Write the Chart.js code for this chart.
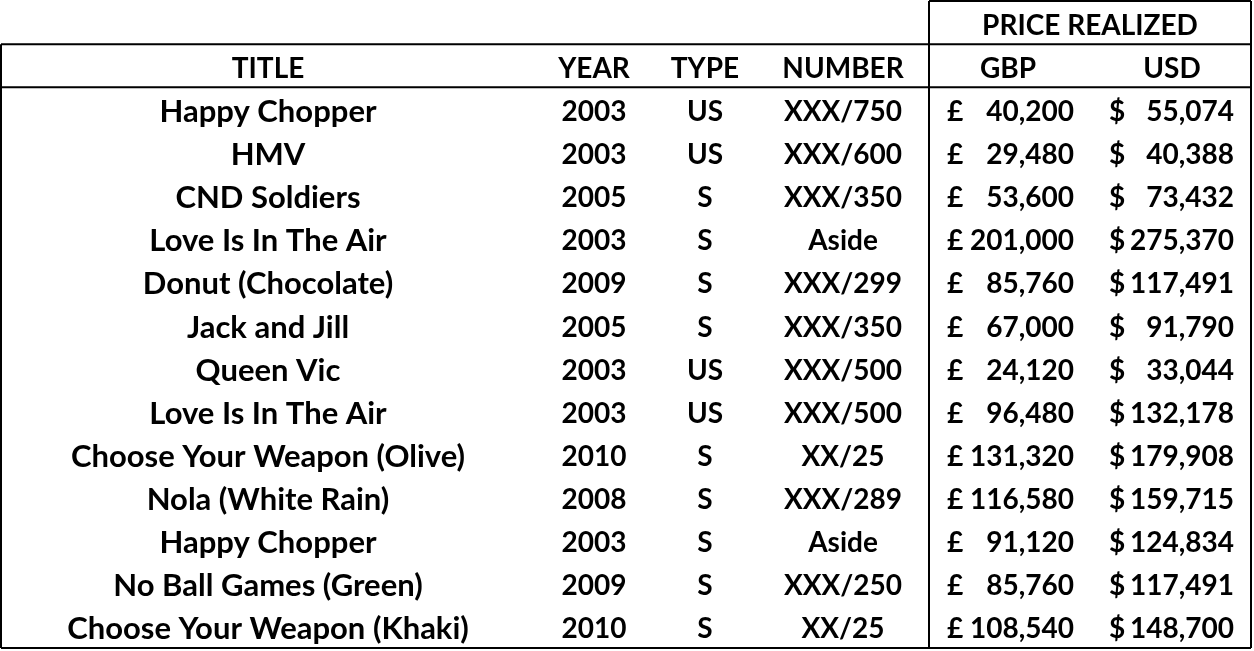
<!DOCTYPE html>
<html>
<head>
<meta charset="utf-8">
<script src="https://cdn.jsdelivr.net/npm/chart.js@4/dist/chart.umd.min.js"></script>
<style>
  html, body { margin: 0; padding: 0; background: #fff; }
  #wrap { width: 1254px; height: 651px; }
</style>
</head>
<body>
<div id="wrap"><canvas id="tabla" width="1254" height="651"></canvas></div>
<script>
const TITLES = ['Happy Chopper', 'HMV', 'CND Soldiers', 'Love Is In The Air', 'Donut (Chocolate)', 'Jack and Jill',
    'Queen Vic', 'Love Is In The Air', 'Choose Your Weapon (Olive)', 'Nola (White Rain)', 'Happy Chopper',
    'No Ball Games (Green)', 'Choose Your Weapon (Khaki)'];
const YEARS = [2003, 2003, 2005, 2003, 2009, 2005, 2003, 2003, 2010, 2008, 2003, 2009, 2010];
const TYPES = ['US', 'US', 'S', 'S', 'S', 'S', 'US', 'US', 'S', 'S', 'S', 'S', 'S'];
const NUMBERS = ['XXX/750', 'XXX/600', 'XXX/350', 'Aside', 'XXX/299', 'XXX/350', 'XXX/500', 'XXX/500',
    'XX/25', 'XXX/289', 'Aside', 'XXX/250', 'XX/25'];
const GBP = [40200, 29480, 53600, 201000, 85760, 67000, 24120, 96480, 131320, 116580, 91120, 85760, 108540];
const USD = [55074, 40388, 73432, 275370, 117491, 91790, 33044, 132178, 179908, 159715, 124834, 117491, 148700];

const HEADERS = ['TITLE', 'YEAR', 'TYPE', 'NUMBER', 'GBP', 'USD'];
const GROUP_HEADER = 'PRICE REALIZED';

// posiciones de columna (unidades del eje x)
const COL = { title: 267, year: 593, type: 704, number: 842, gbpSym: 946, gbpVal: 1073, usdSym: 1108, usdVal: 1233,
    gbpHead: 1007, usdHead: 1171, group: 1089, priceLeft: 928, right: 1250 };
const FONT = 'bold 28px Lato';
const FONT_TITLE = 'bold 31px Lato';

const fmt = n => n.toLocaleString('en-US');

function columna(textos, x, align, font) {
    return {
        data: textos.map((t, i) => ({ x: x, y: i })),
        textos: textos.map(String),
        align: align,
        font: font || FONT,
        pointRadius: 0
    };
}

const datasets = [
    columna(TITLES, COL.title, 'center', FONT_TITLE),
    columna(YEARS, COL.year, 'center'),
    columna(TYPES, COL.type, 'center'),
    columna(NUMBERS, COL.number, 'center'),
    columna(GBP.map(() => '£'), COL.gbpSym, 'left'),
    columna(GBP.map(fmt), COL.gbpVal, 'right'),
    columna(USD.map(() => '$'), COL.usdSym, 'left'),
    columna(USD.map(fmt), COL.usdVal, 'right'),
    // cabeceras
    {
        data: [COL.title, COL.year, COL.type, COL.number, COL.gbpHead, COL.usdHead].map(x => ({ x: x, y: -1 })),
        textos: HEADERS, align: 'center', font: FONT, pointRadius: 0
    },
    { data: [{ x: COL.group, y: -2 }], textos: [GROUP_HEADER], align: 'center', font: FONT, pointRadius: 0 }
];

const textoCeldas = {
    id: 'textoCeldas',
    afterDatasetsDraw(chart) {
        const ctx = chart.ctx;
        const x = chart.scales.x, y = chart.scales.y;
        const px = v => x.getPixelForValue(v), py = v => y.getPixelForValue(v);

        // bordes
        ctx.save();
        ctx.strokeStyle = '#000';
        ctx.lineWidth = 2;
        ctx.beginPath();
        ctx.moveTo(px(COL.priceLeft), py(-2.5)); ctx.lineTo(px(COL.right), py(-2.5));
        ctx.moveTo(px(0), py(-1.5)); ctx.lineTo(px(COL.right), py(-1.5));
        ctx.moveTo(px(0), py(-0.5)); ctx.lineTo(px(COL.right), py(-0.5));
        ctx.moveTo(px(0), py(12.5)); ctx.lineTo(px(COL.right), py(12.5));
        ctx.moveTo(px(0), py(-1.5)); ctx.lineTo(px(0), py(12.5));
        ctx.moveTo(px(COL.priceLeft), py(-2.5)); ctx.lineTo(px(COL.priceLeft), py(12.5));
        ctx.moveTo(px(COL.right), py(-2.5)); ctx.lineTo(px(COL.right), py(12.5));
        ctx.stroke();

        ctx.fillStyle = '#000';
        ctx.textBaseline = 'middle';
        chart.data.datasets.forEach((ds, i) => {
            ctx.textAlign = ds.align;
            ctx.font = ds.font;
            chart.getDatasetMeta(i).data.forEach((pt, j) => {
                ctx.fillText(ds.textos[j], pt.x, pt.y + 3);
            });
        });
        ctx.restore();
    }
};

new Chart(document.getElementById('tabla'), {
    type: 'scatter',
    data: { datasets: datasets },
    options: {
        responsive: false,
        animation: false,
        layout: { padding: { left: 1, top: 1, right: 3, bottom: 3 } },
        plugins: { legend: { display: false }, tooltip: { enabled: false } },
        scales: {
            x: { type: 'linear', min: 0, max: 1250, display: false },
            y: { type: 'linear', min: -2.5, max: 12.5, reverse: true, display: false }
        }
    },
    plugins: [textoCeldas]
});
</script>
</body>
</html>
